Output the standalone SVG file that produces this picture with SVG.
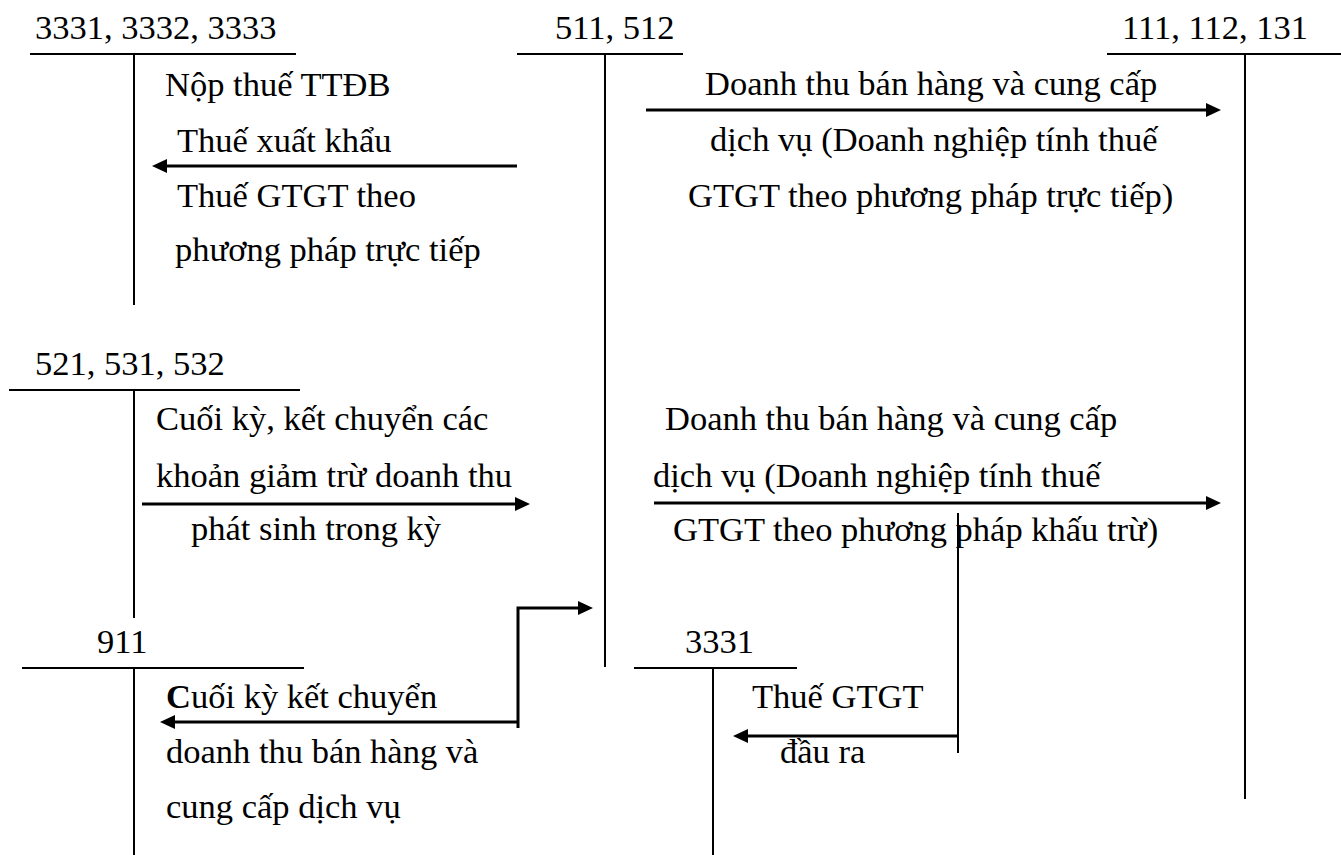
<svg xmlns="http://www.w3.org/2000/svg" width="1341" height="855" viewBox="0 0 1341 855">
  <style>
    text { font-family: 'Liberation Serif', 'Times New Roman', 'DejaVu Serif', serif; font-size: 34.5px; fill: #000; }
    .t { stroke: #000; stroke-width: 2; fill: none; }
    .flow { stroke: #000; stroke-width: 3; fill: none; }
    .thin { stroke: #000; stroke-width: 2; fill: none; }
  </style>
  <defs>
    <marker id="arrow" viewBox="0 0 15 14" refX="11" refY="7" markerWidth="15" markerHeight="14" markerUnits="userSpaceOnUse" orient="auto">
      <path d="M0,0 L15,7 L0,14 z" fill="#000"/>
    </marker>
  </defs>

  <rect width="1341" height="855" fill="#fff"/>

  <!-- T-accounts -->
  <g id="acc-3331-3332-3333">
    <text x="35" y="39">3331, 3332, 3333</text>
    <line class="t" x1="30" y1="54" x2="296" y2="54"/>
    <line class="t" x1="134" y1="54" x2="134" y2="305"/>
  </g>

  <g id="acc-511-512">
    <text x="555" y="39">511, 512</text>
    <line class="t" x1="517" y1="54" x2="683" y2="54"/>
    <line class="t" x1="605" y1="54" x2="605" y2="667"/>
  </g>

  <g id="acc-111-112-131">
    <text x="1122" y="39">111, 112, 131</text>
    <line class="t" x1="1107" y1="54" x2="1341" y2="54"/>
    <line class="t" x1="1245" y1="54" x2="1245" y2="799"/>
  </g>

  <g id="acc-521-531-532">
    <text x="35" y="375">521, 531, 532</text>
    <line class="t" x1="9" y1="390" x2="300" y2="390"/>
    <line class="t" x1="134" y1="390" x2="134" y2="618"/>
  </g>

  <g id="acc-911">
    <text x="97" y="653">911</text>
    <line class="t" x1="22" y1="668" x2="304" y2="668"/>
    <line class="t" x1="134" y1="668" x2="134" y2="855"/>
  </g>

  <g id="acc-3331">
    <text x="685" y="653">3331</text>
    <line class="t" x1="634" y1="668" x2="797" y2="668"/>
    <line class="t" x1="713" y1="668" x2="713" y2="855"/>
  </g>

  <!-- Connectors -->
  <g id="connectors">
    <!-- 511 -> 3331/3332/3333 -->
    <line class="flow" x1="517" y1="166" x2="156" y2="166" marker-end="url(#arrow)"/>
    <!-- 511 -> 111/112/131 (direct method) -->
    <line class="flow" x1="646" y1="110" x2="1217" y2="110" marker-end="url(#arrow)"/>
    <!-- 521/531/532 -> 511 -->
    <line class="flow" x1="142" y1="504" x2="526" y2="504" marker-end="url(#arrow)"/>
    <!-- 511 -> 111/112/131 (deduction method) -->
    <line class="flow" x1="654" y1="503" x2="1217" y2="503" marker-end="url(#arrow)"/>
    <!-- 511 -> 911 stepped -->
    <polyline class="flow" points="518,728 518,608 589,608" marker-end="url(#arrow)"/>
    <line class="flow" x1="518" y1="722" x2="164" y2="722" marker-end="url(#arrow)"/>
    <!-- 111/112/131 -> 3331 -->
    <line class="thin" x1="958" y1="513" x2="958" y2="753"/>
    <line class="flow" x1="958" y1="736" x2="737" y2="736" marker-end="url(#arrow)"/>
  </g>

  <!-- Entry descriptions -->
  <g id="labels">
    <text x="165" y="96">Nộp thuế TTĐB</text>
    <text x="177" y="152">Thuế xuất khẩu</text>
    <text x="177" y="207">Thuế GTGT theo</text>
    <text x="175" y="261">phương pháp trực tiếp</text>

    <text x="705" y="95">Doanh thu bán hàng và cung cấp</text>
    <text x="710" y="151">dịch vụ (Doanh nghiệp tính thuế</text>
    <text x="688" y="207">GTGT theo phương pháp trực tiếp)</text>

    <text x="156" y="430">Cuối kỳ, kết chuyển các</text>
    <text x="156" y="487">khoản giảm trừ doanh thu</text>
    <text x="191" y="540">phát sinh trong kỳ</text>

    <text x="665" y="430">Doanh thu bán hàng và cung cấp</text>
    <text x="653" y="487">dịch vụ (Doanh nghiệp tính thuế</text>
    <text x="673" y="541">GTGT theo phương pháp khấu trừ)</text>

    <text x="166" y="708"><tspan font-weight="bold">C</tspan>uối kỳ kết chuyển</text>
    <text x="166" y="763">doanh thu bán hàng và</text>
    <text x="166" y="818">cung cấp dịch vụ</text>

    <text x="752" y="708">Thuế GTGT</text>
    <text x="780" y="763">đầu ra</text>
  </g>
</svg>
